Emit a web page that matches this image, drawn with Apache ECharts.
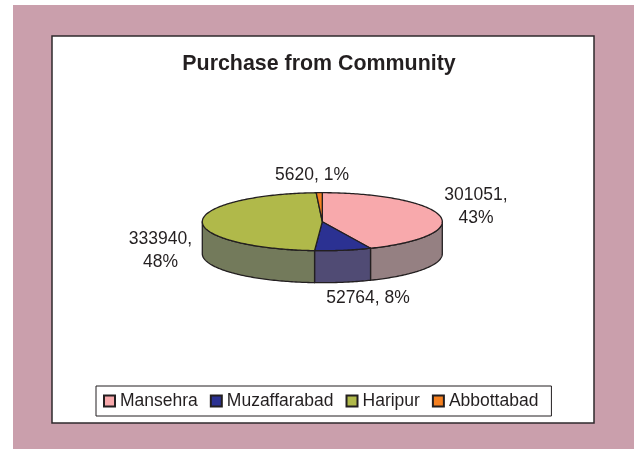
<!DOCTYPE html>
<html><head><meta charset="utf-8">
<style>html,body{margin:0;padding:0;background:#fff}#c{width:634px;height:449px}</style>
<script src="https://cdn.jsdelivr.net/npm/echarts@6/dist/echarts.min.js"></script>
</head><body><div id="c"></div>
<script>
const categories = ['Mansehra', 'Muzaffarabad', 'Haripur', 'Abbottabad'];
const values = [301051, 52764, 333940, 5620];
const labelBreak = [true, false, true, false];

const topColors = ['#f8a9ac', '#2b3192', '#b0b94a', '#f58020'];
const sideColors = ['#958082', '#504b74', '#737a5b', '#8a5a30'];
const labelPos = [[476, 207], [368, 298], [160.5, 251], [312, 175]];
const FONT = '"Liberation Sans", Arial, sans-serif';
const INK = '#231f20';
const CX = 322.3, CY = 221.7, RX = 120, RY = 29, DEPTH = 32;

const total = values.reduce((a, b) => a + b, 0);
const rad = d => d * Math.PI / 180;
const pt = (d, dy) => [CX + RX * Math.sin(rad(d)), CY - RY * Math.cos(rad(d)) + (dy || 0)];
function arc(a, b, dy) {
  const out = [];
  for (let d = a; d < b; d += 1) out.push(pt(d, dy));
  out.push(pt(b, dy));
  return out;
}
let acc = 0;
const spans = values.map(v => { const s = acc; acc += v / total * 360; return [s, acc]; });

function renderSlice(i) {
  const [a, b] = spans[i];
  const children = [];
  const sa = Math.max(a, 90), sb = Math.min(b, 270);
  if (sb > sa) {
    children.push({
      type: 'polygon',
      shape: { points: arc(sa, sb, 0).concat(arc(sa, sb, DEPTH).reverse()) },
      style: { fill: sideColors[i], stroke: INK, lineWidth: 1.3, lineJoin: 'round' }
    });
  }
  children.push({
    type: 'polygon',
    shape: { points: [[CX, CY]].concat(arc(a, b, 0)) },
    style: { fill: topColors[i], stroke: INK, lineWidth: 1.3, lineJoin: 'round' }
  });
  const pct = Math.round(values[i] / total * 100);
  children.push({
    type: 'text', z2: 10,
    style: {
      x: labelPos[i][0], y: labelPos[i][1],
      text: values[i] + ',' + (labelBreak[i] ? '\n' : ' ') + pct + '%',
      fill: INK, font: '17.5px ' + FONT, lineHeight: 23,
      align: 'center', verticalAlign: 'middle'
    }
  });
  return { type: 'group', children };
}

const chart = echarts.init(document.getElementById('c'), null, { renderer: 'canvas' });
chart.setOption({
  animation: false,
  backgroundColor: '#ffffff',
  title: {
    text: 'Purchase from Community', left: 314, top: 49, textAlign: 'center',
    textStyle: { fontFamily: FONT, fontSize: 21.4, fontWeight: 'bold', color: INK }
  },
  legend: {
    show: true, data: categories, left: 96, top: 386,
    orient: 'horizontal',
    padding: [6, 13, 6, 7], itemGap: 12, itemWidth: 11, itemHeight: 11,
    borderColor: INK, borderWidth: 1, backgroundColor: '#fff',
    icon: 'rect', selectedMode: false,
    textStyle: { fontFamily: FONT, fontSize: 17.5, color: INK, padding: [0, 0, 0, 0] }
  },
  graphic: [
    { type: 'rect', z: -10, silent: true, shape: { x: 13, y: 5, width: 621, height: 444 }, style: { fill: '#ca9fac' } },
    { type: 'rect', z: -9, silent: true, shape: { x: 52, y: 36, width: 542, height: 387 }, style: { fill: '#fff', stroke: '#2f2a2c', lineWidth: 1.5 } }
  ],
  series: categories.map((name, i) => ({
    type: 'custom', name, coordinateSystem: 'none', silent: true,
    itemStyle: { color: topColors[i], borderColor: INK, borderWidth: 1 },
    data: [values[i]],
    renderItem: () => renderSlice(i)
  }))
});
</script></body></html>
